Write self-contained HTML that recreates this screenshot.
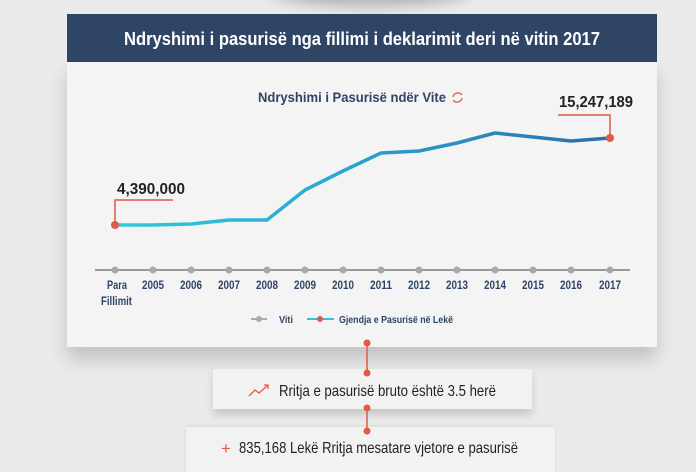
<!DOCTYPE html><html><head><style>
body{margin:0;width:696px;height:467px;overflow:hidden;background:#ebebeb;font-family:"Liberation Sans",sans-serif;position:relative}
.c{position:absolute}
</style></head><body>
<div class="c" style="left:270px;top:-30px;width:200px;height:30px;border-radius:50%;box-shadow:0 6px 14px rgba(0,0,0,.25);background:#ebebeb"></div>
<div class="c" style="left:67px;top:62px;width:590px;height:285px;background:#f4f4f4;box-shadow:0 12px 18px rgba(0,0,0,.18)"></div>
<div class="c" style="left:67px;top:14px;width:590px;height:48px;background:#2e4566"></div>
<div class="c" style="left:213px;top:369px;width:319px;height:40px;background:#f2f2f2;box-shadow:0 6px 8px rgba(0,0,0,.15)"></div>
<div class="c" style="left:186px;top:427px;width:369px;height:45px;background:#f2f2f2;box-shadow:0 -1px 4px rgba(0,0,0,.08)"></div>
<svg class="c" style="left:0;top:0" width="696" height="467">
<defs><linearGradient id="g" x1="115" x2="610" y1="0" y2="0" gradientUnits="userSpaceOnUse"><stop offset="0" stop-color="#33c9dc"/><stop offset="0.45" stop-color="#2aa7cf"/><stop offset="1" stop-color="#2b6ead"/></linearGradient></defs>
<g font-family="Liberation Sans, sans-serif" font-weight="bold" lengthAdjust="spacingAndGlyphs">
<text x="124" y="45" font-size="18" fill="#fff" textLength="476" lengthAdjust="spacingAndGlyphs">Ndryshimi i pasurisë nga fillimi i deklarimit deri në vitin 2017</text>
<text x="258" y="102" font-size="14" fill="#2e4566" textLength="188" lengthAdjust="spacingAndGlyphs">Ndryshimi i Pasurisë ndër Vite</text>
<path d="M453 97 a5 5 0 0 1 9 -2 M462 98 a5 5 0 0 1 -9 2" fill="none" stroke="#e05a45" stroke-width="1.3"/>
<text x="559" y="107" font-size="16" fill="#222" textLength="74" lengthAdjust="spacingAndGlyphs">15,247,189</text>
<text x="117" y="194" font-size="16" fill="#222" textLength="68" lengthAdjust="spacingAndGlyphs">4,390,000</text>
<polyline points="115,225 115,200 173,200" fill="none" stroke="#e05a45" stroke-width="1.5"/>
<polyline points="610,138 610,115 558,115" fill="none" stroke="#e05a45" stroke-width="1.5"/>
<line x1="95" y1="270" x2="630" y2="270" stroke="#999" stroke-width="2"/>
<g fill="#a8a8a8"><circle cx="115" cy="270" r="3.5"/><circle cx="153" cy="270" r="3.5"/><circle cx="191" cy="270" r="3.5"/><circle cx="229" cy="270" r="3.5"/><circle cx="267" cy="270" r="3.5"/><circle cx="305" cy="270" r="3.5"/><circle cx="343" cy="270" r="3.5"/><circle cx="381" cy="270" r="3.5"/><circle cx="419" cy="270" r="3.5"/><circle cx="457" cy="270" r="3.5"/><circle cx="495" cy="270" r="3.5"/><circle cx="533" cy="270" r="3.5"/><circle cx="571" cy="270" r="3.5"/><circle cx="610" cy="270" r="3.5"/></g>
<g font-size="12" fill="#2e4566">
<text x="107" y="289" textLength="20" lengthAdjust="spacingAndGlyphs">Para</text><text x="101" y="305" textLength="31" lengthAdjust="spacingAndGlyphs">Fillimit</text>
<text x="142" y="289" textLength="22" lengthAdjust="spacingAndGlyphs">2005</text><text x="180" y="289" textLength="22" lengthAdjust="spacingAndGlyphs">2006</text><text x="218" y="289" textLength="22" lengthAdjust="spacingAndGlyphs">2007</text><text x="256" y="289" textLength="22" lengthAdjust="spacingAndGlyphs">2008</text><text x="294" y="289" textLength="22" lengthAdjust="spacingAndGlyphs">2009</text><text x="332" y="289" textLength="22" lengthAdjust="spacingAndGlyphs">2010</text><text x="370" y="289" textLength="22" lengthAdjust="spacingAndGlyphs">2011</text><text x="408" y="289" textLength="22" lengthAdjust="spacingAndGlyphs">2012</text><text x="446" y="289" textLength="22" lengthAdjust="spacingAndGlyphs">2013</text><text x="484" y="289" textLength="22" lengthAdjust="spacingAndGlyphs">2014</text><text x="522" y="289" textLength="22" lengthAdjust="spacingAndGlyphs">2015</text><text x="560" y="289" textLength="22" lengthAdjust="spacingAndGlyphs">2016</text><text x="599" y="289" textLength="22" lengthAdjust="spacingAndGlyphs">2017</text>
</g>
<line x1="251" y1="319" x2="267" y2="319" stroke="#aaa" stroke-width="2"/><circle cx="259" cy="319" r="3" fill="#aaa"/>
<text x="279" y="323" font-size="10" fill="#2e4566" textLength="14" lengthAdjust="spacingAndGlyphs">Viti</text>
<line x1="307" y1="319" x2="334" y2="319" stroke="#33c0d8" stroke-width="2"/><circle cx="320" cy="319" r="3" fill="#e05a45"/>
<text x="339" y="323" font-size="10" fill="#2e4566" textLength="114" lengthAdjust="spacingAndGlyphs">Gjendja e Pasurisë në Lekë</text>
<polyline points="115,225 153,225 191,224 229,220 267,220 305,190 343,171 381,153 419,151 457,143 495,133 533,137 571,141 610,138" fill="none" stroke="url(#g)" stroke-width="3.5" stroke-linejoin="round"/>
<circle cx="115" cy="225" r="4" fill="#e05a45"/><circle cx="610" cy="138" r="4" fill="#e05a45"/>
</g>
<line x1="367" y1="343" x2="367" y2="373" stroke="#e05a45" stroke-width="1.5"/>
<line x1="367" y1="408" x2="367" y2="431" stroke="#e05a45" stroke-width="1.5"/>
<g fill="#e05a45"><circle cx="367" cy="343" r="3.5"/><circle cx="367" cy="373" r="3.5"/><circle cx="367" cy="408" r="3.5"/><circle cx="367" cy="431" r="3.5"/></g>
<polyline points="249,396 255,390 259,393 268,385" fill="none" stroke="#e05a45" stroke-width="1.3"/>
<polyline points="264,385 268,385 268,389" fill="none" stroke="#e05a45" stroke-width="1.3"/>
<g font-family="Liberation Sans, sans-serif" fill="#222" font-size="16">
<text x="279" y="396" textLength="217" lengthAdjust="spacingAndGlyphs">Rritja e pasurisë bruto është 3.5 herë</text>
<text x="221" y="454" fill="#e05a45" font-size="17">+</text>
<text x="239" y="453" textLength="279" lengthAdjust="spacingAndGlyphs">835,168 Lekë Rritja mesatare vjetore e pasurisë</text>
</g>
</svg>
</body></html>
